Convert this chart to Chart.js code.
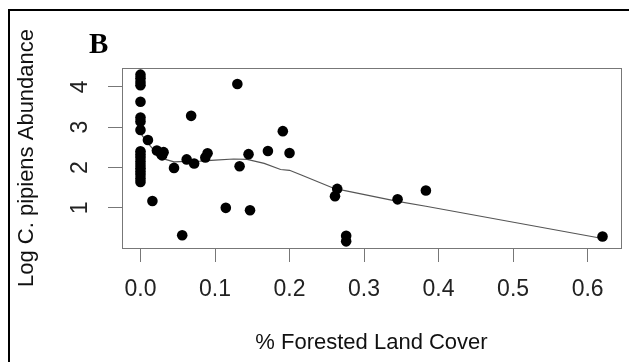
<!DOCTYPE html>
<html>
<head>
<meta charset="utf-8">
<script src="https://cdn.jsdelivr.net/npm/chart.js@4"></script>
<style>
  html, body { margin: 0; padding: 0; background: #fff; overflow: hidden; }
  #wrap { position: relative; width: 629px; height: 362px; }
  #frame { position: absolute; left: 8px; top: 9px; width: 640px; height: 380px;
           border: 2px solid #000; pointer-events: none; }
</style>
</head>
<body>
<div id="wrap">
  <canvas id="forestChart" width="629" height="362"></canvas>
  <div id="frame"></div>
</div>
<script>
// % forested land cover vs log C. pipiens abundance (panel B)
const forestX = [
    0, 0, 0, 0, 0, 0, 0, 0, 0, 0, 0, 0, 0, 0, 0, 0, 0, 0,
    0.010, 0.016, 0.022, 0.027, 0.031, 0.029, 0.045, 0.056, 0.062, 0.068,
    0.072, 0.087, 0.090, 0.1145, 0.130, 0.133, 0.145, 0.147, 0.171, 0.191,
    0.200, 0.261, 0.264, 0.276, 0.276, 0.345, 0.383, 0.620
];
const abundanceY = [
    4.30, 4.21, 4.12, 4.04, 3.63, 3.24, 3.14, 2.93, 2.40, 2.32, 2.24, 2.15, 2.06, 1.98, 1.90, 1.82, 1.73, 1.64,
    2.68, 1.17, 2.42, 2.35, 2.38, 2.30, 1.99, 0.32, 2.20, 3.28,
    2.10, 2.25, 2.35, 1.00, 4.07, 2.03, 2.33, 0.94, 2.41, 2.90,
    2.36, 1.29, 1.47, 0.31, 0.17, 1.21, 1.43, 0.29
];

// smoothed (lowess) trend line
const smoothX = [0, 0.009, 0.018, 0.03, 0.045, 0.06, 0.08, 0.1, 0.125, 0.143, 0.166, 0.188, 0.2, 0.215, 0.26, 0.276, 0.345, 0.383, 0.62];
const smoothY = [2.85, 2.62, 2.43, 2.22, 2.14, 2.15, 2.16, 2.18, 2.21, 2.20, 2.10, 1.95, 1.93, 1.82, 1.48, 1.42, 1.16, 1.04, 0.24];

const xTickValues = [0, 0.1, 0.2, 0.3, 0.4, 0.5, 0.6];
const xTickLabels = ['0.0', '0.1', '0.2', '0.3', '0.4', '0.5', '0.6'];
const yTickValues = [1, 2, 3, 4];
const yTickLabels = ['1', '2', '3', '4'];

const pointData = forestX.map((x, i) => ({ x: x, y: abundanceY[i] }));
const smoothData = smoothX.map((x, i) => ({ x: x, y: smoothY[i] }));

// plot box + panel letter
const boxPlugin = {
    id: 'boxPlugin',
    beforeDatasetsDraw(chart) {
        const a = chart.chartArea;
        const ctx = chart.ctx;
        ctx.save();
        ctx.strokeStyle = '#777';
        ctx.lineWidth = 1;
        ctx.strokeRect(a.left + 0.5, a.top + 0.5, a.right - a.left, a.bottom - a.top);
        ctx.restore();
    },
    afterDraw(chart) {
        const ctx = chart.ctx;
        ctx.save();
        ctx.fillStyle = '#000';
        ctx.font = 'bold 29px "Liberation Serif", serif';
        ctx.textBaseline = 'alphabetic';
        ctx.fillText('B', 89, 53);
        ctx.restore();
    }
};

const tickFont = { family: '"Liberation Sans", Arial, sans-serif', size: 23 };
const titleFont = { family: '"Liberation Sans", Arial, sans-serif', size: 22 };
const axisGray = '#777';

new Chart(document.getElementById('forestChart'), {
    type: 'scatter',
    data: {
        datasets: [
            {
                label: 'sites',
                data: pointData,
                backgroundColor: '#000',
                borderWidth: 0,
                pointRadius: 5.3,
                order: 1
            },
            {
                label: 'lowess',
                data: smoothData,
                showLine: true,
                borderColor: '#555',
                borderWidth: 1.2,
                pointRadius: 0,
                fill: false,
                order: 2
            }
        ]
    },
    options: {
        responsive: false,
        animation: false,
        layout: { padding: { top: 68, right: 8, bottom: 0, left: 0 } },
        plugins: {
            legend: { display: false },
            tooltip: { enabled: false }
        },
        scales: {
            x: {
                type: 'linear',
                min: -0.0248,
                max: 0.6448,
                afterBuildTicks: (scale) => { scale.ticks = xTickValues.map(v => ({ value: v })); },
                afterFit: (scale) => { scale.height = 114; },
                grid: { drawOnChartArea: false, drawTicks: true, tickLength: 14, color: axisGray },
                border: { display: false },
                ticks: {
                    autoSkip: false,
                    minRotation: 0,
                    maxRotation: 0,
                    padding: 14,
                    color: '#222',
                    font: tickFont,
                    callback: (v, i) => xTickLabels[i]
                },
                title: {
                    display: true,
                    text: '% Forested Land Cover',
                    color: '#111',
                    font: titleFont,
                    padding: { top: 0, bottom: 6 }
                }
            },
            y: {
                type: 'linear',
                min: 0.005,
                max: 4.465,
                afterBuildTicks: (scale) => { scale.ticks = yTickValues.map(v => ({ value: v })); },
                afterFit: (scale) => { scale.width = 122; },
                grid: { drawOnChartArea: false, drawTicks: true, tickLength: 14, color: axisGray },
                border: { display: false },
                ticks: {
                    autoSkip: false,
                    minRotation: 90,
                    maxRotation: 90,
                    crossAlign: 'center',
                    padding: 21,
                    color: '#222',
                    font: tickFont,
                    callback: (v, i) => yTickLabels[i]
                },
                title: {
                    display: true,
                    text: 'Log C. pipiens Abundance',
                    color: '#111',
                    font: titleFont,
                    padding: { top: 14, bottom: 0 }
                }
            }
        }
    },
    plugins: [boxPlugin]
});
</script>
</body>
</html>
